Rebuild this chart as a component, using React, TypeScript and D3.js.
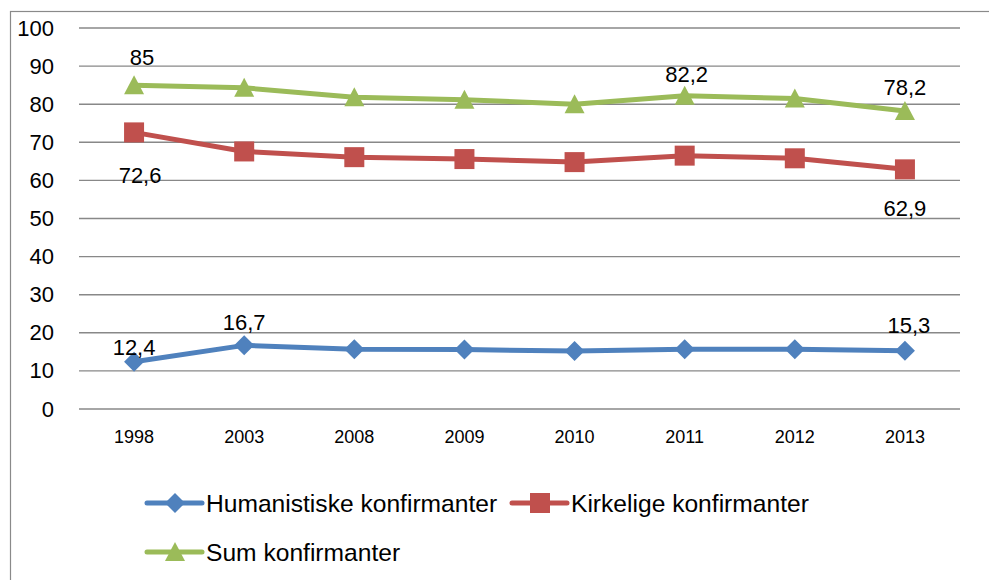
import React from 'react';
import * as d3 from 'd3';

const years = ['1998', '2003', '2008', '2009', '2010', '2011', '2012', '2013'];
const humanistiske = [12.4, 16.7, 15.7, 15.6, 15.2, 15.7, 15.7, 15.3];
const kirkelige = [72.6, 67.6, 66.1, 65.6, 64.8, 66.5, 65.8, 62.9];
const sum = [85, 84.3, 81.8, 81.2, 80.0, 82.2, 81.5, 78.2];
const yTicks = [0, 10, 20, 30, 40, 50, 60, 70, 80, 90, 100];

const seriesNames = ['Humanistiske konfirmanter', 'Kirkelige konfirmanter', 'Sum konfirmanter'];

// which points carry a value label (series index, point index)
const labelled = [
  [0, 0], [0, 1], [0, 7],
  [1, 0], [1, 7],
  [2, 0], [2, 5], [2, 7],
];

const W = 989;
const H = 580;
const margin = { top: 28, right: 29, bottom: 171, left: 79 };
const FONT = '"Liberation Sans", Arial, sans-serif';

// label nudges (dx, dy of the baseline from the point)
const labelNudge: Record<string, [number, number]> = {
  '0-0': [0, -7],
  '0-1': [0, -15],
  '0-7': [4, -18],
  '1-0': [6, 51],
  '1-7': [0, 47],
  '2-0': [8, -20],
  '2-5': [2, -14],
  '2-7': [0, -16],
};

const colors = ['#4F81BD', '#C0504D', '#9BBB59'];

function Marker({ kind, x, y, color }: { kind: number; x: number; y: number; color: string }) {
  if (kind === 0) {
    const r = 10;
    return <path d={`M${x},${y - r}L${x + r},${y}L${x},${y + r}L${x - r},${y}Z`} fill={color} />;
  }
  if (kind === 1) {
    return <rect x={x - 10} y={y - 10} width={20} height={20} fill={color} />;
  }
  return <path d={`M${x},${y - 10}L${x + 10},${y + 9}L${x - 10},${y + 9}Z`} fill={color} />;
}

export default function App() {
  const all = [humanistiske, kirkelige, sum];
  const x = d3.scaleBand().domain(years).range([margin.left, W - margin.right]);
  const y = d3.scaleLinear().domain([0, 100]).range([H - margin.bottom, margin.top]);
  const cx = (d: string) => (x(d) ?? 0) + x.bandwidth() / 2;
  const line = d3.line<number>()
    .x((_, i) => cx(years[i]))
    .y(d => y(d));
  const fmt = (v: number) => String(v).replace('.', ',');

  const legend = [
    { i: 0, x: 147, y: 503 },
    { i: 1, x: 512, y: 503 },
    { i: 2, x: 147, y: 552 },
  ];

  return (
    <svg width={W} height={H} style={{ position: 'absolute', left: 0, top: 0, background: '#fff' }} fontFamily={FONT}>
      <rect x={10.5} y={11.5} width={1000} height={600} fill="none" stroke="#8a8a8a" strokeWidth={1.2} />

      {yTicks.map(t => (
        <g key={t}>
          <line x1={margin.left} x2={W - margin.right} y1={y(t)} y2={y(t)} stroke="#888" strokeWidth={1.4} />
          <text x={54} y={y(t)} textAnchor="end" dominantBaseline="central" fontSize={22} fill="#000">{t}</text>
        </g>
      ))}

      {years.map(yr => (
        <text key={yr} x={cx(yr)} y={437} textAnchor="middle" dominantBaseline="central" fontSize={18} fill="#000">{yr}</text>
      ))}

      {all.map((s, si) => (
        <g key={si}>
          <path d={line(s) ?? ''} fill="none" stroke={colors[si]} strokeWidth={5} strokeLinejoin="round" strokeLinecap="round" />
          {s.map((v, i) => <Marker key={i} kind={si} x={cx(years[i])} y={y(v)} color={colors[si]} />)}
        </g>
      ))}

      {labelled.map(([si, i]) => {
        const [dx, dy] = labelNudge[`${si}-${i}`];
        const v = all[si][i];
        return (
          <text key={`${si}-${i}`} x={cx(years[i]) + dx} y={y(v) + dy} textAnchor="middle" fontSize={22} fill="#000">{fmt(v)}</text>
        );
      })}

      {legend.map(l => (
        <g key={l.i}>
          <line x1={l.x} x2={l.x + 55} y1={l.y} y2={l.y} stroke={colors[l.i]} strokeWidth={5} strokeLinecap="round" />
          <Marker kind={l.i} x={l.x + 28} y={l.y} color={colors[l.i]} />
          <text x={l.x + 59} y={l.y} dominantBaseline="central" fontSize={24.6} fill="#000">{seriesNames[l.i]}</text>
        </g>
      ))}
    </svg>
  );
}
